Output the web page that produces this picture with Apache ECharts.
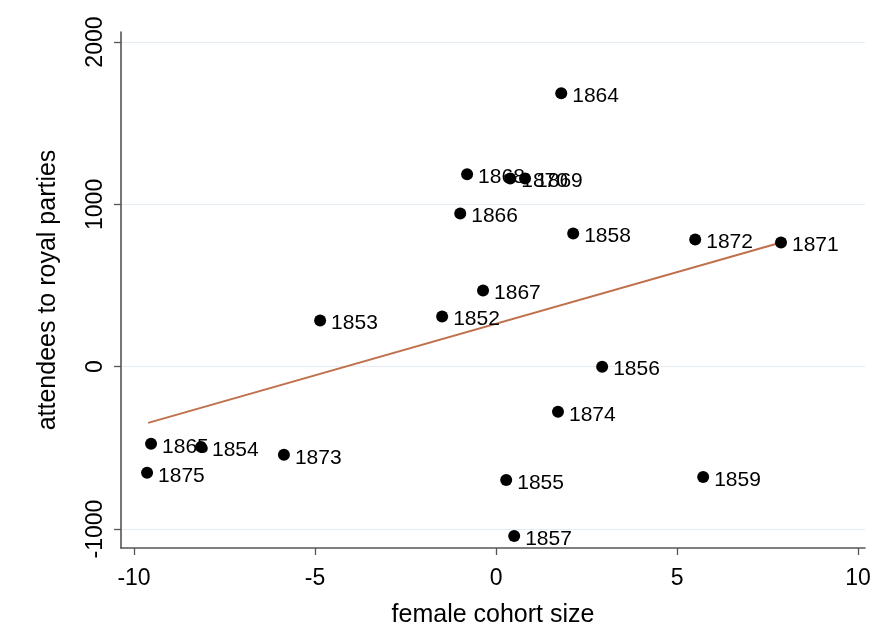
<!DOCTYPE html>
<html>
<head>
<meta charset="utf-8">
<script src="https://cdn.jsdelivr.net/npm/echarts@6/dist/echarts.min.js"></script>
<style>html,body{margin:0;padding:0;background:#fff}#c{width:881px;height:643px}</style>
</head>
<body>
<div id="c"></div>
<script>
const years = ['1864','1868','1870','1869','1866','1858','1872','1871','1867','1853','1852','1856','1874','1865','1854','1875','1873','1855','1859','1857'];
const cohortSize = [1.80,-0.80,0.39,0.80,-0.99,2.13,5.50,7.87,-0.36,-4.86,-1.49,2.93,1.71,-9.53,-8.15,-9.64,-5.86,0.28,5.72,0.50];
const attendees = [1685,1185,1160,1160,944,821,784,765,469,284,309,0,-278,-475,-494,-654,-543,-698,-679,-1043];
const fitX = [-9.61, 7.87];
const fitY = [-346, 765];
const xTicks = [-10,-5,0,5,10];
const yTicks = [-1000,0,1000,2000];

const chart = echarts.init(document.getElementById('c'), null, {renderer:'canvas'});
const font = 'Liberation Sans, Arial, Helvetica, sans-serif';
chart.setOption({
  animation:false,
  grid:{left:121,right:16,top:32,bottom:95,containLabel:false},
  xAxis:{
    type:'value',min:-10.36,max:10.19,
    name:'female cohort size',nameLocation:'middle',nameGap:55,
    nameTextStyle:{fontFamily:font,fontSize:25,color:'#000'},
    axisLine:{show:true,onZero:false,lineStyle:{color:'#555',width:1.6}},
    axisTick:{show:true,length:7,lineStyle:{color:'#555',width:1.3},customValues:xTicks},
    axisLabel:{fontFamily:font,fontSize:23,color:'#000',margin:19,customValues:xTicks,formatter:v=>String(v)},
    splitLine:{show:false}
  },
  yAxis:{
    type:'value',min:-1117,max:2062,
    name:'attendees to royal parties',nameLocation:'middle',nameGap:60,
    nameTextStyle:{fontFamily:font,fontSize:25,color:'#000'},
    axisLine:{show:true,onZero:false,lineStyle:{color:'#555',width:1.6}},
    axisTick:{show:true,length:7,lineStyle:{color:'#555',width:1.3},customValues:yTicks},
    axisLabel:{fontFamily:font,fontSize:23,color:'#000',margin:14,rotate:90,customValues:yTicks,formatter:v=>String(v)},
    splitLine:{show:true,lineStyle:{color:'#e4ecf1',width:1}}
  },
  series:[
    {
      type:'line',data:fitX.map((x,i)=>[x,fitY[i]]),symbol:'none',
      lineStyle:{color:'#c0704c',width:2},z:1
    },
    {
      type:'scatter',symbolSize:12,itemStyle:{color:'#000',opacity:1},z:3,
      data:cohortSize.map((x,i)=>({value:[x,attendees[i]],name:years[i]})),
      label:{show:true,position:'right',distance:5,offset:[0,3],formatter:p=>p.name,
        fontFamily:font,fontSize:21,color:'#000'}
    }
  ]
});
</script>
</body>
</html>
